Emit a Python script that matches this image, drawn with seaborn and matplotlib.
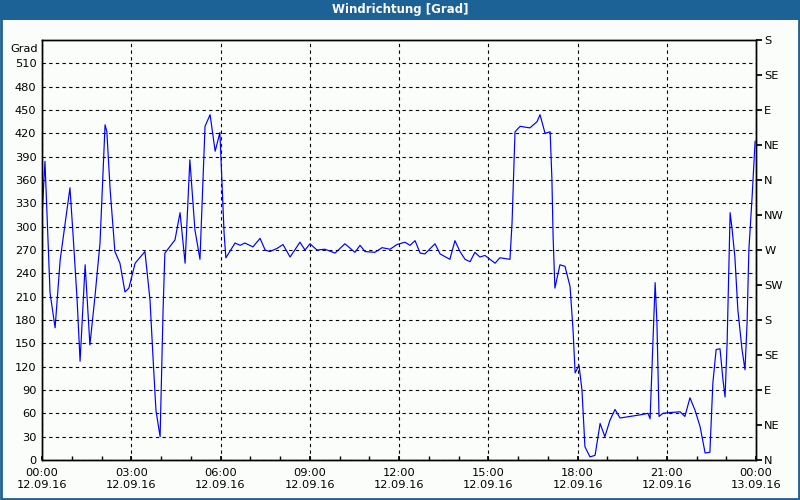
import pandas as pd
import numpy as np
import matplotlib.pyplot as plt
import matplotlib.patches as patches
import seaborn as sns

# Windrichtung 12.09.16, Stunden ab 00:00
stunden = [
    0.00, 0.10, 0.27, 0.44, 0.61, 0.94, 1.04, 1.18, 1.28, 1.45, 1.61, 1.78, 1.95,
    2.12, 2.18, 2.29, 2.45, 2.62, 2.79, 2.92, 3.13, 3.46, 3.63, 3.73, 3.83, 3.97,
    4.07, 4.13, 4.47, 4.64, 4.81, 4.97, 5.14, 5.31, 5.48, 5.65, 5.82, 5.98, 6.12,
    6.18, 6.49, 6.66, 6.82, 7.09, 7.33, 7.50, 7.66, 7.90, 8.10, 8.34, 8.67, 8.84,
    9.01, 9.24, 9.51, 9.85, 10.18, 10.52, 10.69, 10.86, 11.19, 11.43, 11.70, 11.93,
    12.20, 12.37, 12.54, 12.71, 12.87, 13.21, 13.38, 13.71, 13.88, 14.05, 14.22,
    14.39, 14.55, 14.72, 14.89, 15.23, 15.39, 15.73, 15.80, 15.90, 16.07, 16.40,
    16.64, 16.74, 16.91, 17.08, 17.14, 17.18, 17.24, 17.41, 17.58, 17.75, 17.85,
    17.92, 18.05, 18.15, 18.25, 18.42, 18.59, 18.76, 18.92, 19.09, 19.26, 19.43,
    19.76, 20.10, 20.37, 20.44, 20.61, 20.67, 20.74, 20.87, 21.11, 21.45, 21.61,
    21.78, 21.95, 22.12, 22.29, 22.45, 22.55, 22.66, 22.79, 22.89, 22.96, 23.03,
    23.06, 23.13, 23.19, 23.29, 23.39, 23.53, 23.63, 23.70, 23.76, 23.87, 23.97,
]
grad = [
    313, 384, 215, 170, 257, 350, 292, 206, 127, 251, 148, 210, 279,
    431, 422, 348, 268, 253, 216, 221, 253, 268, 206, 133, 64, 30,
    193, 266, 283, 318, 253, 386, 296, 258, 429, 444, 397, 421, 292,
    260, 279, 276, 279, 274, 285, 270, 268, 272, 277, 261, 280, 270,
    278, 270, 271, 266, 278, 267, 276, 268, 267, 273, 271, 277,
    280, 276, 282, 266, 265, 278, 265, 258, 282, 268, 258,
    255, 267, 261, 263, 253, 260, 258, 305, 422, 429, 427,
    435, 444, 420, 422, 361, 287, 221, 251, 249, 223, 167,
    112, 122, 90, 17, 4, 6, 47, 30, 51, 65, 54,
    56, 58, 60, 53, 228, 176, 56, 60, 61, 62, 56,
    80, 64, 43, 9, 10, 99, 142, 143, 103, 81, 152,
    202, 318, 299, 261, 193, 142, 116, 176, 270, 339, 410,
]

x_ticks = [0, 3, 6, 9, 12, 15, 18, 21, 24]
x_labels = ["00:00\n12.09.16", "03:00\n12.09.16", "06:00\n12.09.16", "09:00\n12.09.16",
            "12:00\n12.09.16", "15:00\n12.09.16", "18:00\n12.09.16", "21:00\n12.09.16",
            "00:00\n13.09.16"]
y_ticks = list(range(0, 511, 30))
y_labels = [str(v) for v in y_ticks]
richtung_ticks = list(range(0, 541, 45))
richtung_labels = ["N", "NE", "E", "SE", "S", "SW", "W", "NW", "N", "NE", "E", "SE", "S"]

blau = "#1d6296"
hintergrund = "#fafdfa"

sns.set_theme(style="ticks")
plt.rcParams["font.family"] = ["DejaVu Sans"]

df = pd.DataFrame({"stunde": stunden, "grad": grad})

fig = plt.figure(figsize=(8, 5), dpi=100, facecolor=hintergrund)
ax = fig.add_axes([0.0525, 0.08, 0.8925, 0.84])
ax.set_facecolor(hintergrund)

sns.lineplot(data=df, x="stunde", y="grad", color="#0000ff", linewidth=0.85, ax=ax)

ax.set_xlim(0, 24)
ax.set_ylim(0, 540)
ax.set_xticks(x_ticks)
ax.set_xticklabels(x_labels, fontsize=8.2, color="black")
ax.set_xticks(range(0, 25), minor=True)
ax.set_yticks(y_ticks)
ax.set_yticklabels(y_labels, fontsize=8.2, color="black")
ax.set_xlabel("")
ax.set_ylabel("")
ax.tick_params(axis="x", which="both", direction="in", length=3, color="black", pad=6)
ax.tick_params(axis="y", direction="in", length=0, pad=4)
ax.grid(True, axis="both", which="major", color="black", linestyle=(0, (3, 3)), linewidth=0.8)
for s in ax.spines.values():
    s.set_color("black")
    s.set_linewidth(1)

# Einheit oben links
ax.text(-0.006, 535, "Grad", transform=ax.get_yaxis_transform(), ha="right", va="top",
        fontsize=8.2, color="black")

ax2 = ax.twinx()
ax2.set_ylim(0, 540)
ax2.set_yticks(richtung_ticks)
ax2.set_yticklabels(richtung_labels, fontsize=8.2, color="black")
ax2.tick_params(axis="y", direction="out", length=4, color="black", pad=2)
for s in ax2.spines.values():
    s.set_color("black")
    s.set_linewidth(1)

# Titelleiste und Rahmen
fig.patches.append(patches.Rectangle((0, 0.96), 1, 0.04, transform=fig.transFigure,
                                     facecolor=blau, edgecolor="none", zorder=0))
fig.patches.append(patches.Rectangle((0.001, 0.002), 0.998, 0.996, transform=fig.transFigure,
                                     facecolor="none", edgecolor=blau, linewidth=2, zorder=1))
fig.text(0.5, 0.98, "Windrichtung [Grad]", color="white", fontsize=8.5,
         fontweight="bold", ha="center", va="center")

fig.savefig("out.png", dpi=100, facecolor=hintergrund)
